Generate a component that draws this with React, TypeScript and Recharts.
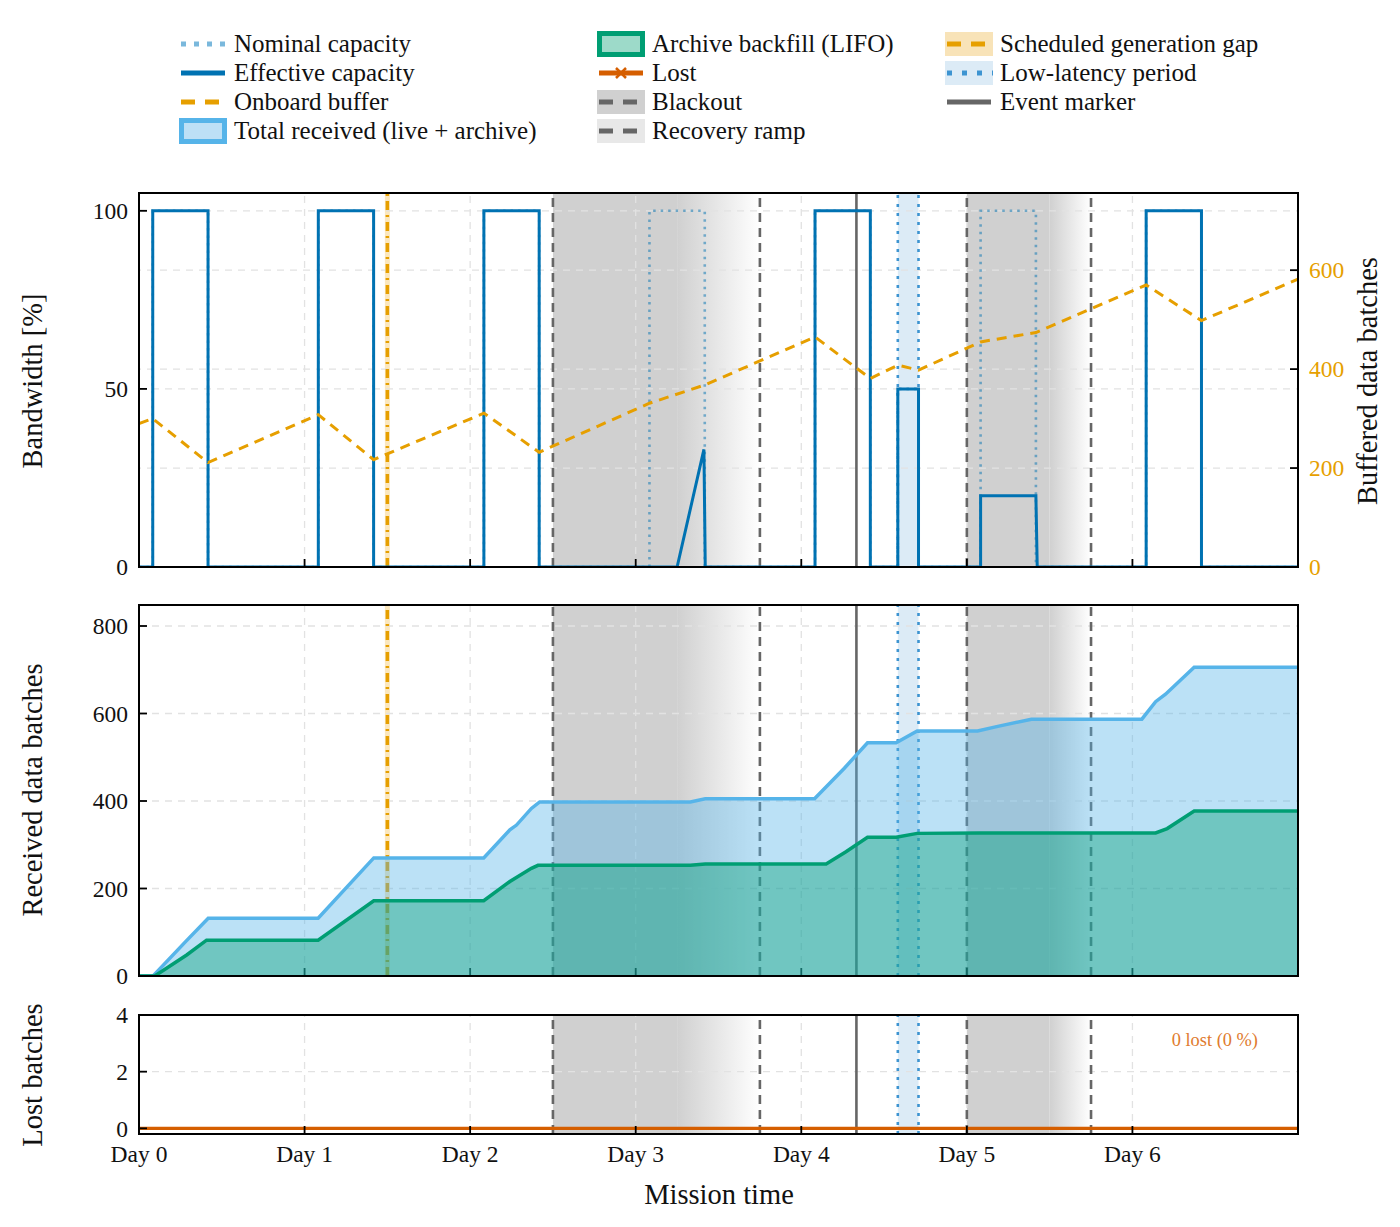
import React from 'react';
import { ComposedChart, Line, Area, XAxis, YAxis, ReferenceLine, ReferenceArea } from 'recharts';

const FONT = '"Liberation Serif", "DejaVu Serif", serif';

// ---------- axis ticks ----------
const dayTicks = [0, 1, 2, 3, 4, 5, 6];
const dayTickLabels = ['Day 0', 'Day 1', 'Day 2', 'Day 3', 'Day 4', 'Day 5', 'Day 6'];
const bandwidthTicks = [0, 50, 100];
const bufferTicks = [0, 200, 400, 600];
const receivedTicks = [0, 200, 400, 600, 800];
const lostTicks = [0, 2, 4];

// ---------- series (t in days, value) ----------
const nominalCapacity: [number, number][] = [
  [0, 0], [0.083, 0], [0.083, 100], [0.417, 100], [0.417, 0],
  [1.083, 0], [1.083, 100], [1.417, 100], [1.417, 0],
  [2.083, 0], [2.083, 100], [2.417, 100], [2.417, 0],
  [3.083, 0], [3.083, 100], [3.417, 100], [3.417, 0],
  [4.083, 0], [4.083, 100], [4.417, 100], [4.417, 0],
  [4.583, 0], [4.583, 50], [4.708, 50], [4.708, 0],
  [5.083, 0], [5.083, 100], [5.417, 100], [5.417, 0],
  [6.083, 0], [6.083, 100], [6.417, 100], [6.417, 0], [7, 0],
];
const effectiveCapacity: [number, number][] = [
  [0, 0], [0.083, 0], [0.083, 100], [0.417, 100], [0.417, 0],
  [1.083, 0], [1.083, 100], [1.417, 100], [1.417, 0],
  [2.083, 0], [2.083, 100], [2.417, 100], [2.417, 0],
  [3.25, 0], [3.412, 33], [3.42, 0],
  [4.083, 0], [4.083, 100], [4.417, 100], [4.417, 0],
  [4.583, 0], [4.583, 50], [4.708, 50], [4.708, 0],
  [5.083, 0], [5.083, 20], [5.417, 20], [5.425, 0],
  [6.083, 0], [6.083, 100], [6.417, 100], [6.417, 0], [7, 0],
];
const onboardBuffer: [number, number][] = [
  [0, 290], [0.083, 300], [0.417, 211], [1.083, 308], [1.417, 217],
  [2.083, 311], [2.417, 232], [3.083, 331], [3.417, 368], [4.083, 465],
  [4.417, 381], [4.583, 408], [4.708, 398], [5.083, 455], [5.417, 474],
  [6.083, 570], [6.417, 498], [7, 582],
];
const totalReceived: [number, number][] = [
  [0, 0], [0.085, 0], [0.28, 78], [0.418, 132], [1.082, 132], [1.418, 270],
  [2.082, 270], [2.24, 334], [2.28, 345], [2.37, 383], [2.42, 398],
  [3.33, 398], [3.42, 405], [4.08, 405], [4.26, 475], [4.40, 533],
  [4.573, 533], [4.70, 560], [5.065, 560], [5.18, 570], [5.39, 587],
  [6.057, 587], [6.14, 627], [6.2, 644], [6.373, 706], [7, 706],
];
const archiveBackfill: [number, number][] = [
  [0, 0], [0.095, 0], [0.288, 48], [0.408, 82], [1.082, 82], [1.418, 172],
  [2.082, 172], [2.24, 216], [2.37, 246], [2.41, 253], [3.33, 253],
  [3.42, 256], [4.15, 256], [4.27, 284], [4.40, 317], [4.573, 317],
  [4.70, 326], [5.075, 327], [6.14, 327], [6.21, 337], [6.373, 377], [7, 377],
];
const lostBatches: [number, number][] = [[0, 0], [7, 0]];

// ---------- annotations (days) ----------
const blackouts: [number, number, number][] = [[2.5, 3.25, 3.75], [5.0, 5.5, 5.75]];
const eventMarkers = [4.333];
const lowLatency: [number, number][] = [[4.583, 4.708]];
const generationGaps: [number, number, number][] = [[1.485, 1.5, 1.515]];

const toPts = (a: [number, number][]) => a.map(([t, v]) => ({ t, v }));

const C = {
  eff: '#0072B2',
  buf: '#E69F00',
  total: '#56B4E9',
  archive: '#009E73',
  lost: '#D55E00',
  gray: '#666666',
  band: '#d0d0d0',
  grid: '#e2e2e2',
  ll: '#3d94d1',
};

const PLOT_L = 139;
const PLOT_R = 1298;
const TICK_FS = 23.5;

const XTickInward = (props: any) => {
  const { x, y } = props;
  return <line x1={x} x2={x} y1={y} y2={y - 8} stroke="#000" strokeWidth={1.8} />;
};
const XTickLabeled = (props: any) => {
  const { x, y, payload } = props;
  const i = dayTicks.indexOf(payload.value);
  return (
    <g>
      <line x1={x} x2={x} y1={y} y2={y - 8} stroke="#000" strokeWidth={1.8} />
      <text x={x} y={y + 28} textAnchor="middle" fontFamily={FONT} fontSize={TICK_FS} fill="#111">
        {dayTickLabels[i]}
      </text>
    </g>
  );
};
const YTickLeft = (props: any) => {
  const { x, y, payload } = props;
  return (
    <g>
      <line x1={x} x2={x + 8} y1={y} y2={y} stroke="#000" strokeWidth={1.8} />
      <text x={x - 11} y={y} dy="0.35em" textAnchor="end" fontFamily={FONT} fontSize={TICK_FS} fill="#111">
        {payload.value}
      </text>
    </g>
  );
};
const YTickRight = (props: any) => {
  const { x, y, payload } = props;
  return (
    <g>
      <line x1={x} x2={x - 8} y1={y} y2={y} stroke="#000" strokeWidth={1.8} />
      <text x={x + 11} y={y} dy="0.35em" textAnchor="start" fontFamily={FONT} fontSize={TICK_FS} fill={C.buf}>
        {payload.value}
      </text>
    </g>
  );
};

function Defs({ id }: { id: string }) {
  return (
    <defs>
      <linearGradient id={id} x1="0" y1="0" x2="1" y2="0">
        <stop offset="0%" stopColor={C.band} stopOpacity={1} />
        <stop offset="100%" stopColor={C.band} stopOpacity={0} />
      </linearGradient>
    </defs>
  );
}

function bandElements(yId: string, gradId: string) {
  const els: any[] = [];
  blackouts.forEach(([s, r, e], i) => {
    els.push(<ReferenceArea key={'bo' + i} x1={s} x2={r} yAxisId={yId} fill={C.band} fillOpacity={1} stroke="none" ifOverflow="visible" />);
    els.push(<ReferenceArea key={'rr' + i} x1={r} x2={e} yAxisId={yId} fill={`url(#${gradId})`} fillOpacity={1} stroke="none" ifOverflow="visible" />);
  });
  lowLatency.forEach(([s, e], i) => {
    els.push(<ReferenceArea key={'ll' + i} x1={s} x2={e} yAxisId={yId} fill="#dcebf6" fillOpacity={1} stroke="none" ifOverflow="visible" />);
  });
  return els;
}

function gridElements(yId: string, yTicks: number[]) {
  const els: any[] = [];
  dayTicks.slice(1).forEach((d) => {
    els.push(<ReferenceLine key={'vg' + d} x={d} yAxisId={yId} stroke={C.grid} strokeWidth={1.3} strokeDasharray="7 6" />);
  });
  yTicks.forEach((v) => {
    els.push(<ReferenceLine key={'hg' + yId + v} y={v} yAxisId={yId} stroke={C.grid} strokeWidth={1.3} strokeDasharray="7 6" />);
  });
  return els;
}

function markerElements(yId: string, withGap: boolean) {
  const els: any[] = [];
  if (withGap) {
    generationGaps.forEach(([s, c, e], i) => {
      els.push(<ReferenceArea key={'gg' + i} x1={s} x2={e} yAxisId={yId} fill="#fbe7bd" fillOpacity={1} stroke="none" ifOverflow="visible" />);
      els.push(<ReferenceLine key={'ggl' + i} x={c} yAxisId={yId} stroke={C.buf} strokeWidth={3.5} strokeDasharray="9 5 2 5" />);
    });
  }
  blackouts.forEach(([s, r, e], i) => {
    els.push(<ReferenceLine key={'bs' + i} x={s} yAxisId={yId} stroke={C.gray} strokeWidth={2.6} strokeDasharray="9 6" />);
    els.push(<ReferenceLine key={'be' + i} x={e} yAxisId={yId} stroke={C.gray} strokeWidth={2.6} strokeDasharray="9 6" />);
  });
  eventMarkers.forEach((m, i) => {
    els.push(<ReferenceLine key={'em' + i} x={m} yAxisId={yId} stroke={C.gray} strokeWidth={2.6} />);
  });
  lowLatency.forEach(([s, e], i) => {
    els.push(<ReferenceLine key={'lls' + i} x={s} yAxisId={yId} stroke={C.ll} strokeWidth={2.6} strokeDasharray="3 6" />);
    els.push(<ReferenceLine key={'lle' + i} x={e} yAxisId={yId} stroke={C.ll} strokeWidth={2.6} strokeDasharray="3 6" />);
  });
  return els;
}

const Frame = ({ top, height }: { top: number; height: number }) => (
  <div
    style={{
      position: 'absolute', left: PLOT_L - 1, top: top - 1, width: PLOT_R - PLOT_L + 2, height: height + 2,
      border: '2px solid #000', boxSizing: 'border-box', pointerEvents: 'none',
    }}
  />
);

const VLabel = ({ x, y, text, color = '#111' }: { x: number; y: number; text: string; color?: string }) => (
  <div
    style={{
      position: 'absolute', left: x, top: y, transform: 'translate(-50%, -50%) rotate(-90deg)',
      whiteSpace: 'nowrap', fontFamily: FONT, fontSize: 28.5, color, lineHeight: 1,
    }}
  >
    {text}
  </div>
);

// ---------- legend ----------
const Swatch = ({ kind }: { kind: string }) => {
  const w = 48, h = 26, m = h / 2;
  let inner: any = null;
  switch (kind) {
    case 'nominal':
      inner = <line x1={2} x2={w} y1={m} y2={m} stroke="#7ab8dc" strokeWidth={5} strokeDasharray="5 8" />;
      break;
    case 'effective':
      inner = <line x1={2} x2={w - 2} y1={m} y2={m} stroke={C.eff} strokeWidth={5} />;
      break;
    case 'buffer':
      inner = <line x1={2} x2={w} y1={m} y2={m} stroke={C.buf} strokeWidth={5} strokeDasharray="14 10" />;
      break;
    case 'total':
      inner = <rect x={2.5} y={2.5} width={w - 5} height={h - 5} fill="#bde0f6" stroke={C.total} strokeWidth={5} />;
      break;
    case 'archive':
      inner = <rect x={2.5} y={2.5} width={w - 5} height={h - 5} fill="#9ddac9" stroke={C.archive} strokeWidth={5} />;
      break;
    case 'lost':
      inner = (
        <g>
          <line x1={2} x2={w - 2} y1={m} y2={m} stroke={C.lost} strokeWidth={5} />
          <path d={`M${w / 2 - 5},${m - 5} L${w / 2 + 5},${m + 5} M${w / 2 - 5},${m + 5} L${w / 2 + 5},${m - 5}`} stroke={C.lost} strokeWidth={2.5} />
        </g>
      );
      break;
    case 'blackout':
      inner = (
        <g>
          <rect x={0} y={1} width={w} height={h - 2} fill={C.band} />
          <line x1={2} x2={w} y1={m} y2={m} stroke={C.gray} strokeWidth={5} strokeDasharray="14 10" />
        </g>
      );
      break;
    case 'ramp':
      inner = (
        <g>
          <rect x={0} y={1} width={w} height={h - 2} fill="#e8e8e8" />
          <line x1={2} x2={w} y1={m} y2={m} stroke={C.gray} strokeWidth={5} strokeDasharray="14 10" />
        </g>
      );
      break;
    case 'gap':
      inner = (
        <g>
          <rect x={0} y={1} width={w} height={h - 2} fill="#f8e3b8" />
          <line x1={2} x2={w} y1={m} y2={m} stroke={C.buf} strokeWidth={5} strokeDasharray="14 10" />
        </g>
      );
      break;
    case 'lowlat':
      inner = (
        <g>
          <rect x={0} y={1} width={w} height={h - 2} fill="#dcebf6" />
          <line x1={2} x2={w} y1={m} y2={m} stroke={C.ll} strokeWidth={5} strokeDasharray="5 10" />
        </g>
      );
      break;
    case 'event':
      inner = <line x1={2} x2={w - 2} y1={m} y2={m} stroke={C.gray} strokeWidth={5} />;
      break;
  }
  return <svg width={w} height={h} style={{ display: 'block' }}>{inner}</svg>;
};

const legendItems: [string, string][] = [
  ['nominal', 'Nominal capacity'],
  ['effective', 'Effective capacity'],
  ['buffer', 'Onboard buffer'],
  ['total', 'Total received (live + archive)'],
  ['archive', 'Archive backfill (LIFO)'],
  ['lost', 'Lost'],
  ['blackout', 'Blackout'],
  ['ramp', 'Recovery ramp'],
  ['gap', 'Scheduled generation gap'],
  ['lowlat', 'Low-latency period'],
  ['event', 'Event marker'],
];
const legendColumns = [[0, 1, 2, 3], [4, 5, 6, 7], [8, 9, 10]];
const legendColX = [179, 597, 945];

const Legend = () => (
  <>
    {legendColumns.map((col, ci) =>
      col.map((idx, ri) => (
        <div
          key={idx}
          style={{
            position: 'absolute', left: legendColX[ci], top: 44 + ri * 29, transform: 'translateY(-50%)',
            display: 'flex', alignItems: 'center', gap: 7, fontFamily: FONT, fontSize: 25, color: '#111', whiteSpace: 'nowrap',
          }}
        >
          <Swatch kind={legendItems[idx][0]} />
          <span>{legendItems[idx][1]}</span>
        </div>
      ))
    )}
  </>
);

const hiddenX = (
  <XAxis dataKey="t" type="number" domain={[0, 7]} ticks={dayTicks} interval={0} height={1}
    tickSize={0} tickMargin={0} axisLine={false} tick={<XTickInward />} allowDataOverflow />
);

export default function App() {
  const topTop = 193, topH = 374;
  const midTop = 605, midH = 371;
  const botTop = 1015, botH = 119;
  const abs = (top: number): React.CSSProperties => ({ position: 'absolute', left: 0, top });
  return (
    <div style={{ position: 'absolute', left: 0, top: 0, width: 1400, height: 1227, background: '#fff', overflow: 'hidden' }}>
      <Legend />

      {/* Top panel */}
      <div style={abs(topTop - 20)}>
        <ComposedChart width={1400} height={topH + 50} margin={{ top: 20, right: 42, bottom: 29, left: 79 }}>
          <Defs id="gradTop" />
          {hiddenX}
          <YAxis yAxisId="bw" domain={[0, 105]} ticks={bandwidthTicks} interval={0} width={60}
            tickSize={0} tickMargin={0} axisLine={false} tick={<YTickLeft />} allowDataOverflow />
          <YAxis yAxisId="buf" orientation="right" domain={[0, 756]} ticks={bufferTicks} interval={0} width={60}
            tickSize={0} tickMargin={0} axisLine={false} tick={<YTickRight />} allowDataOverflow />
          {bandElements('bw', 'gradTop')}
          {gridElements('bw', bandwidthTicks.slice(1))}
          {bufferTicks.slice(1).map((v) => (
            <ReferenceLine key={'hgb' + v} y={v} yAxisId="buf" stroke={C.grid} strokeWidth={1.3} strokeDasharray="7 6" />
          ))}
          {markerElements('bw', true)}
          <Line yAxisId="bw" data={toPts(nominalCapacity)} dataKey="v" type="linear" stroke={C.eff} strokeOpacity={0.5}
            strokeWidth={2.6} strokeDasharray="2.5 5" dot={false} activeDot={false} isAnimationActive={false} />
          <Line yAxisId="bw" data={toPts(effectiveCapacity)} dataKey="v" type="linear" stroke={C.eff}
            strokeWidth={3} dot={false} activeDot={false} isAnimationActive={false} />
          <Line yAxisId="buf" data={toPts(onboardBuffer)} dataKey="v" type="linear" stroke={C.buf}
            strokeWidth={3} strokeDasharray="10 7" dot={false} activeDot={false} isAnimationActive={false} />
        </ComposedChart>
      </div>
      <Frame top={topTop} height={topH} />

      {/* Middle panel: background layer (bands, grid, markers) */}
      <div style={abs(midTop - 20)}>
        <ComposedChart width={1400} height={midH + 50} margin={{ top: 20, right: 102, bottom: 29, left: 79 }}>
          <Defs id="gradMid" />
          {hiddenX}
          <YAxis yAxisId="rx" domain={[0, 848]} ticks={receivedTicks} interval={0} width={60}
            tickSize={0} tickMargin={0} axisLine={false} tick={<YTickLeft />} allowDataOverflow />
          {bandElements('rx', 'gradMid')}
          {gridElements('rx', receivedTicks.slice(1))}
          {markerElements('rx', true)}
        </ComposedChart>
      </div>
      {/* Middle panel: translucent areas on top */}
      <div style={abs(midTop - 20)}>
        <ComposedChart width={1400} height={midH + 50} margin={{ top: 20, right: 102, bottom: 29, left: 79 }}>
          <XAxis dataKey="t" type="number" domain={[0, 7]} ticks={dayTicks} interval={0} height={1}
            tickSize={0} tickMargin={0} axisLine={false} tick={false} allowDataOverflow />
          <YAxis yAxisId="rx" domain={[0, 848]} ticks={receivedTicks} interval={0} width={60}
            tickSize={0} tickMargin={0} axisLine={false} tick={false} allowDataOverflow />
          <Area yAxisId="rx" data={toPts(totalReceived)} dataKey="v" type="linear" stroke={C.total} strokeWidth={3.5}
            fill={C.total} fillOpacity={0.4} dot={false} activeDot={false} isAnimationActive={false} />
          <Area yAxisId="rx" data={toPts(archiveBackfill)} dataKey="v" type="linear" stroke={C.archive} strokeWidth={3.5}
            fill={C.archive} fillOpacity={0.4} dot={false} activeDot={false} isAnimationActive={false} />
        </ComposedChart>
      </div>
      <Frame top={midTop} height={midH} />

      {/* Bottom panel */}
      <div style={abs(botTop - 20)}>
        <ComposedChart width={1400} height={botH + 20 + 75} margin={{ top: 20, right: 102, bottom: 5, left: 79 }}>
          <Defs id="gradBot" />
          <XAxis dataKey="t" type="number" domain={[0, 7]} ticks={dayTicks} interval={0} height={70}
            tickSize={0} tickMargin={0} axisLine={false} tick={<XTickLabeled />} allowDataOverflow />
          <YAxis yAxisId="lo" domain={[-0.2, 4]} ticks={lostTicks} interval={0} width={60}
            tickSize={0} tickMargin={0} axisLine={false} tick={<YTickLeft />} allowDataOverflow />
          {bandElements('lo', 'gradBot')}
          {gridElements('lo', [2])}
          {markerElements('lo', false)}
          <Line yAxisId="lo" data={toPts(lostBatches)} dataKey="v" type="linear" stroke={C.lost}
            strokeWidth={3.2} dot={false} activeDot={false} isAnimationActive={false} />
        </ComposedChart>
      </div>
      <Frame top={botTop} height={botH} />
      <div style={{ position: 'absolute', right: 1400 - 1258, top: 1040, transform: 'translateY(-50%)', fontFamily: FONT, fontSize: 18.4, color: '#E07B2E', whiteSpace: 'nowrap' }}>
        0 lost (0 %)
      </div>

      <VLabel x={33} y={381} text="Bandwidth [%]" />
      <VLabel x={1368} y={381} text="Buffered data batches" />
      <VLabel x={33} y={790} text="Received data batches" />
      <VLabel x={33} y={1075} text="Lost batches" />
      <div style={{ position: 'absolute', left: 719, top: 1195, transform: 'translate(-50%, -50%)', fontFamily: FONT, fontSize: 28.5, color: '#111', whiteSpace: 'nowrap' }}>
        Mission time
      </div>
    </div>
  );
}
